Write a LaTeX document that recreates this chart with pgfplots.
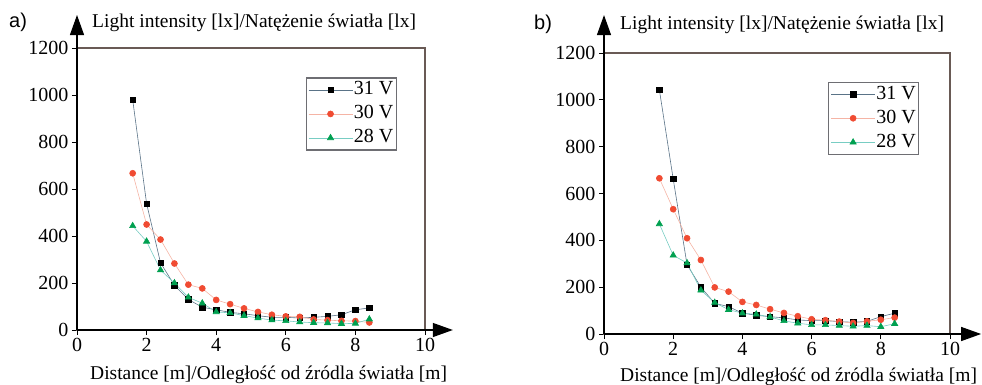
\documentclass[border=0pt]{standalone}
\usepackage{fontspec}
\setmainfont{Liberation Serif}
\newfontfamily\arialf{Liberation Sans}
\newfontfamily\timesf{Liberation Serif}
\usepackage{pgfplots}
\pgfplotsset{compat=1.18}
\usetikzlibrary{arrows.meta}
\definecolor{framec}{RGB}{105,90,85}
\definecolor{legc}{RGB}{110,110,115}
\definecolor{lineA}{RGB}{90,115,135}
\definecolor{lineB}{RGB}{245,180,165}
\definecolor{lineC}{RGB}{120,205,195}
\definecolor{markB}{RGB}{240,75,50}
\definecolor{markC}{RGB}{0,160,80}
\pgfplotsset{
  panel/.style={
    scale only axis, xmin=0, xmax=10, ymin=0, ymax=1200,
    xtick={0,2,4,6,8,10}, ytick={0,200,400,600,800,1000,1200},
    xticklabels={{\timesf 0},{\timesf 2},{\timesf 4},{\timesf 6},{\timesf 8},{\timesf 10}},
    yticklabels={{\timesf 0},{\timesf 200},{\timesf 400},{\timesf 600},{\timesf 800},{\timesf 1000},{\timesf 1200}},
    axis line style={framec, line width=1.2pt},
    tick pos=left, tick align=outside, major tick length=5pt,
    tick style={black, line width=0.8pt},
    tick label style={font=\timesf\fontsize{20}{22}\selectfont},
    clip=false,
    legend cell align=left,
    legend style={draw=legc, line width=1.2pt, font=\timesf\fontsize{20}{22}\selectfont,
      inner sep=2pt, row sep=4pt,
      nodes={inner sep=1pt, text height=14pt, text depth=4pt},
      /tikz/every even column/.append style={column sep=0pt}},
    legend image code/.code={\draw[##1, mark repeat=2, mark phase=2, line width=0.6pt] plot coordinates {(0pt,0pt) (22pt,0pt) (44pt,0pt)};},
  },
  sA/.style={color=lineA, line width=0.6pt, mark=square*, mark size=2.7pt, mark options={fill=black, draw=black}},
  sB/.style={color=lineB, line width=0.6pt, mark=*, mark size=3pt, mark options={fill=markB, draw=markB}},
  sC/.style={color=lineC, line width=0.6pt, mark=triangle*, mark size=3.6pt, mark options={fill=markC, draw=markC}},
}
\begin{document}
\begin{tikzpicture}
\useasboundingbox (0,0) rectangle (982pt,384pt);
% Panel a
\begin{axis}[panel, width=348pt, height=282pt, at={(77pt,54pt)}, anchor=south west,
  legend style={at={(rel axis cs:0.657,0.896)}, anchor=north west}]
\addplot[sA] coordinates {(1.6,980) (2.0,538) (2.4,286) (2.8,190) (3.2,130) (3.6,97) (4.0,86) (4.4,75) (4.8,69) (5.2,61) (5.6,54) (6.0,54) (6.4,51) (6.8,54) (7.2,58) (7.6,65) (8.0,86) (8.4,94)};
\addplot[sB] coordinates {(1.6,667) (2.0,449) (2.4,385) (2.8,283) (3.2,193) (3.6,177) (4.0,128) (4.4,110) (4.8,92) (5.2,77) (5.6,65) (6.0,58) (6.4,56) (6.8,45) (7.2,42) (7.6,39) (8.0,38) (8.4,32)};
\addplot[sC] coordinates {(1.6,443) (2.0,377) (2.4,255) (2.8,200) (3.2,139) (3.6,114) (4.0,77) (4.4,73) (4.8,61) (5.2,51) (5.6,42) (6.0,39) (6.4,34) (6.8,31) (7.2,30) (7.6,27) (8.0,28) (8.4,46)};
\legend{31 V,30 V,28 V}
\draw[black, line width=1.2pt, -{Triangle[length=20pt,width=14pt]}] (rel axis cs:0,0) -- (rel axis cs:0,1.117);
\draw[black, line width=1.2pt, -{Triangle[length=20pt,width=14pt]}] (rel axis cs:0,0) -- (rel axis cs:1.08,0);
\end{axis}
% Panel b
\begin{axis}[panel, width=346pt, height=281pt, at={(604pt,50pt)}, anchor=south west,
  legend style={at={(rel axis cs:0.648,0.898)}, anchor=north west}]
\addplot[sA] coordinates {(1.6,1043) (2.0,662) (2.4,296) (2.8,200) (3.2,131) (3.6,117) (4.0,89) (4.4,80) (4.8,74) (5.2,69) (5.6,60) (6.0,57) (6.4,57) (6.8,53) (7.2,50) (7.6,54) (8.0,74) (8.4,89)};
\addplot[sB] coordinates {(1.6,665) (2.0,533) (2.4,409) (2.8,316) (3.2,199) (3.6,181) (4.0,137) (4.4,124) (4.8,106) (5.2,90) (5.6,76) (6.0,63) (6.4,59) (6.8,53) (7.2,47) (7.6,54) (8.0,61) (8.4,70)};
\addplot[sC] coordinates {(1.6,470) (2.0,336) (2.4,303) (2.8,187) (3.2,134) (3.6,104) (4.0,89) (4.4,84) (4.8,73) (5.2,56) (5.6,46) (6.0,39) (6.4,39) (6.8,36) (7.2,33) (7.6,36) (8.0,31) (8.4,44)};
\legend{31 V,30 V,28 V}
\draw[black, line width=1.2pt, -{Triangle[length=20pt,width=14pt]}] (rel axis cs:0,0) -- (rel axis cs:0,1.135);
\draw[black, line width=1.2pt, -{Triangle[length=20pt,width=14pt]}] (rel axis cs:0,0) -- (rel axis cs:1.09,0);
\end{axis}
\node[anchor=base west, inner sep=0pt, font=\arialf\fontsize{20}{24}\selectfont] at (9pt,356pt) {a)};
\node[anchor=base west, inner sep=0pt, font=\timesf\fontsize{19.5}{23}\selectfont] at (92pt,356pt) {Light intensity [lx]/Natężenie światła [lx]};
\node[anchor=base west, inner sep=0pt, font=\timesf\fontsize{19.5}{23}\selectfont] at (90pt,5pt) {Distance [m]/Odległość od źródla światła [m]};
\node[anchor=base west, inner sep=0pt, font=\arialf\fontsize{20}{24}\selectfont] at (534pt,355pt) {b)};
\node[anchor=base west, inner sep=0pt, font=\timesf\fontsize{19.5}{23}\selectfont] at (620pt,355pt) {Light intensity [lx]/Natężenie światła [lx]};
\node[anchor=base west, inner sep=0pt, font=\timesf\fontsize{19.5}{23}\selectfont] at (620pt,3pt) {Distance [m]/Odległość od źródla światła [m]};
\end{tikzpicture}
\end{document}
